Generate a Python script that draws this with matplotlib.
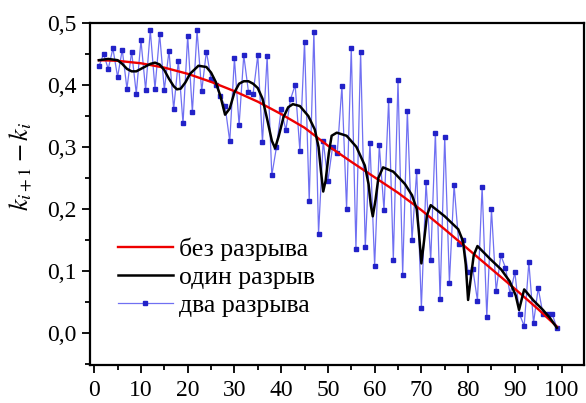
import matplotlib
matplotlib.use('Agg')
import matplotlib.pyplot as plt
import numpy as np
from matplotlib.ticker import MultipleLocator

plt.rcParams['font.family'] = ['Liberation Serif', 'DejaVu Serif']
plt.rcParams['mathtext.fontset'] = 'stix'

# red curve: no break
red_x = [1, 5, 10, 15, 20, 25, 30, 35, 40, 45, 50, 55, 60, 65, 70, 75, 80, 85, 90, 95, 99]
red_y = [0.440, 0.439, 0.435, 0.428, 0.418, 0.405, 0.390, 0.373, 0.353, 0.331, 0.302,
         0.276, 0.251, 0.226, 0.198, 0.167, 0.135, 0.103, 0.071, 0.038, 0.010]

# black curve: one break
black_x = [1, 3, 5, 6, 7, 8, 9, 10, 12, 13, 14, 15, 16, 17, 17.7, 18.5, 19.5, 20.5,
           22.3, 24, 25, 26, 27, 28, 29, 30, 31, 32, 33, 34, 35, 36, 37, 38, 38.7,
           39.5, 40.5, 41.5, 42.5, 44, 45.8, 47.2, 48, 48.5, 49, 49.5, 50.2, 50.8,
           51.9, 54, 56.1, 57.9, 58.7, 59.2, 59.6, 60.2, 60.8, 61.8, 64, 66.5, 68,
           69, 69.5, 70, 70.6, 71.2, 72, 75, 77.9, 78.9, 79.5, 80, 80.6, 81.2, 82,
           84.6, 87.1, 88.9, 90.2, 90.9, 91.5, 92, 94, 96, 97.5, 99]
black_y = [0.440, 0.442, 0.440, 0.434, 0.426, 0.422, 0.422, 0.426, 0.434, 0.436, 0.433,
           0.424, 0.410, 0.398, 0.393, 0.394, 0.404, 0.418, 0.431, 0.429, 0.420,
           0.405, 0.382, 0.352, 0.362, 0.388, 0.402, 0.406, 0.406, 0.402, 0.395,
           0.378, 0.345, 0.310, 0.298, 0.318, 0.348, 0.364, 0.369, 0.366, 0.350,
           0.328, 0.300, 0.262, 0.228, 0.245, 0.290, 0.318, 0.323, 0.318, 0.300,
           0.270, 0.240, 0.205, 0.188, 0.215, 0.250, 0.267, 0.260, 0.240, 0.222,
           0.200, 0.160, 0.112, 0.150, 0.190, 0.206, 0.188, 0.167, 0.148, 0.110,
           0.053, 0.090, 0.125, 0.140, 0.120, 0.102, 0.083, 0.060, 0.037, 0.055,
           0.070, 0.052, 0.037, 0.024, 0.008]

# blue series: two breaks, one point per step
blue_x = list(range(1, 100))
blue_y = [0.430, 0.450, 0.426, 0.459, 0.413, 0.457, 0.394, 0.454, 0.386, 0.472,
          0.392, 0.488, 0.394, 0.482, 0.392, 0.455, 0.361, 0.439, 0.338, 0.479,
          0.356, 0.488, 0.390, 0.454, 0.410, 0.400, 0.382, 0.366, 0.309, 0.443,
          0.335, 0.448, 0.389, 0.386, 0.448, 0.308, 0.446, 0.254, 0.300, 0.361,
          0.327, 0.377, 0.400, 0.294, 0.470, 0.212, 0.486, 0.160, 0.310, 0.245,
          0.300, 0.290, 0.398, 0.200, 0.460, 0.136, 0.454, 0.138, 0.307, 0.108,
          0.303, 0.198, 0.376, 0.118, 0.408, 0.094, 0.358, 0.150, 0.261, 0.040,
          0.244, 0.117, 0.323, 0.054, 0.316, 0.081, 0.239, 0.144, 0.149, 0.098,
          0.103, 0.052, 0.236, 0.026, 0.199, 0.067, 0.125, 0.105, 0.062, 0.098,
          0.030, 0.011, 0.114, 0.016, 0.072, 0.031, 0.030, 0.030, 0.008]

xticks = list(range(0, 101, 10))
yticks = [0.0, 0.1, 0.2, 0.3, 0.4, 0.5]
ytick_labels = ['0,0', '0,1', '0,2', '0,3', '0,4', '0,5']
labels = ['без разрыва', 'один разрыв', 'два разрыва']

fig = plt.figure(figsize=(5.86, 4.03), dpi=100)
ax = fig.add_axes([0.1536, 0.0943, 0.8430, 0.8486])

ax.plot(blue_x, blue_y, '-', color='#7070f2', lw=0.9, marker='s', ms=2.2,
        mfc='#2222c8', mec='#2222c8', label=labels[2], zorder=2)
ax.plot(red_x, red_y, '-', color='#ee0000', lw=1.7, label=labels[0], zorder=3)
ax.plot(black_x, black_y, '-', color='black', lw=1.8, label=labels[1], zorder=4)

ax.set_xlim(-0.9, 104.8)
ax.set_ylim(-0.052, 0.5)
ax.set_xticks(xticks)
ax.set_yticks(yticks)
ax.set_yticklabels(ytick_labels)
ax.xaxis.set_minor_locator(MultipleLocator(5))
ax.yaxis.set_minor_locator(MultipleLocator(0.05))
ax.tick_params(which='major', direction='out', length=6, width=1.3, labelsize=17)
ax.tick_params(axis='x', which='major', pad=5)
ax.tick_params(which='minor', direction='out', length=3.5, width=1.3)
for s in ax.spines.values():
    s.set_linewidth(1.6)

ax.set_ylabel(r'$k_{i+1} - k_i$', fontsize=19)
ax.yaxis.set_label_coords(-0.112, 0.58)

h, l = ax.get_legend_handles_labels()
order = [1, 2, 0]
ax.legend([h[i] for i in order], [l[i] for i in order], loc='lower left',
          bbox_to_anchor=(0.009, 0.073), frameon=False, fontsize=18.5,
          handlelength=2.15, handletextpad=0.25, labelspacing=0.2, numpoints=1)

fig.savefig('out.png', dpi=100)
